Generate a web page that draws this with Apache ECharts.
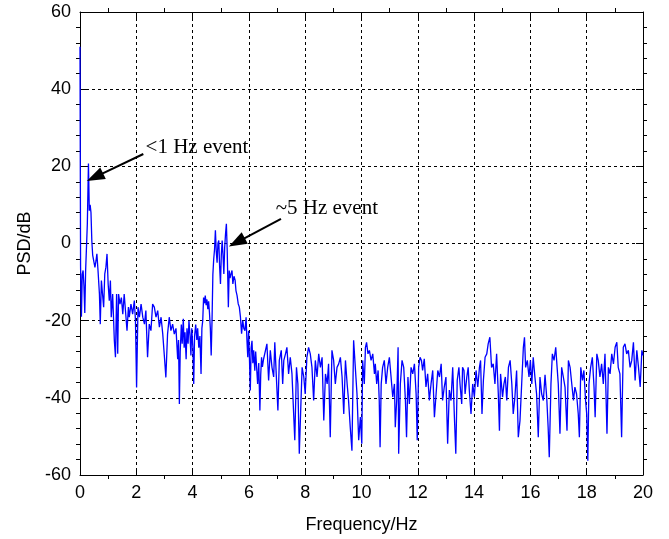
<!DOCTYPE html>
<html>
<head>
<meta charset="utf-8">
<script src="https://cdn.jsdelivr.net/npm/echarts@6/dist/echarts.min.js"></script>
<style>html,body{margin:0;padding:0;background:#fff;}#c{width:669px;height:539px;}</style>
</head>
<body>
<div id="c"></div>
<script>
// Frequency (Hz) and PSD (dB)
const freq = [
0,0.02,0.05,0.08,0.11,0.14,0.17,0.20,0.23,0.26,0.30,0.33,0.36,0.39,0.42,0.45,0.48,0.51,0.53,0.57,0.60,0.64,0.69,0.72,0.76,0.80,0.84,0.88,0.92,0.96,
1.00,1.04,1.08,1.11,1.16,1.22,1.26,1.30,1.34,1.37,1.42,1.47,1.52,1.57,1.63,1.67,1.72,1.75,1.81,1.87,1.93,1.97,2.01,2.06,2.11,2.17,2.23,2.29,2.34,2.40,
2.46,2.52,2.58,2.64,2.70,2.76,2.82,2.88,2.94,3.00,3.05,3.11,3.17,3.23,3.29,3.35,3.41,3.47,3.50,3.53,3.56,3.60,3.63,3.67,3.70,3.73,3.77,3.80,3.84,3.87,
3.91,3.94,3.97,4.01,4.04,4.07,4.11,4.15,4.18,4.22,4.26,4.30,4.33,4.36,4.39,4.42,4.45,4.48,4.51,4.54,4.57,4.60,4.63,4.66,4.69,4.72,4.75,4.78,4.81,4.84,
4.87,4.90,4.93,4.96,4.99,5.02,5.05,5.08,5.11,5.14,5.17,5.20,5.23,5.27,5.30,5.33,5.36,5.40,5.43,5.47,5.51,5.54,5.58,5.62,5.66,5.70,5.74,5.78,5.82,5.86,
5.90,5.93,5.96,5.99,6.02,6.05,6.08,6.11,6.14,6.17,6.21,6.24,6.27,6.31,6.35,6.39,6.42,6.45,6.48,6.52,6.56,6.64,6.70,6.76,6.82,6.88,6.92,6.96,7.03,7.08,
7.15,7.20,7.24,7.30,7.35,7.41,7.47,7.53,7.59,7.63,7.69,7.74,7.79,7.84,7.89,7.95,8.00,8.06,8.12,8.18,8.24,8.30,8.36,8.42,8.48,8.54,8.60,8.66,8.72,8.78,
8.83,8.89,8.95,9.01,9.07,9.13,9.19,9.25,9.31,9.37,9.43,9.49,9.54,9.60,9.66,9.72,9.78,9.84,9.90,9.96,10.01,10.04,10.10,10.14,10.18,10.23,10.28,10.34,10.40,10.46,
10.49,10.54,10.59,10.63,10.66,10.70,10.75,10.81,10.87,10.93,10.99,11.05,11.11,11.17,11.20,11.25,11.30,11.32,11.38,11.44,11.50,11.56,11.60,11.65,11.70,11.76,11.82,11.88,11.94,11.98,
12.03,12.08,12.13,12.17,12.23,12.29,12.35,12.41,12.47,12.53,12.59,12.65,12.71,12.77,12.83,12.88,12.94,13.00,13.06,13.12,13.18,13.24,13.30,13.35,13.40,13.46,13.50,13.56,13.59,13.64,
13.68,13.74,13.79,13.83,13.89,13.95,14.01,14.07,14.13,14.19,14.23,14.28,14.33,14.39,14.45,14.50,14.56,14.62,14.68,14.74,14.80,14.86,14.90,14.94,15.01,15.06,15.11,15.16,15.22,15.28,
15.34,15.39,15.45,15.51,15.57,15.63,15.69,15.75,15.79,15.83,15.89,15.95,16.00,16.05,16.10,16.16,16.22,16.28,16.34,16.40,16.46,16.52,16.58,16.63,16.67,16.73,16.78,16.84,16.90,16.94,
16.99,17.05,17.11,17.17,17.23,17.30,17.35,17.41,17.47,17.53,17.58,17.64,17.70,17.74,17.79,17.85,17.90,17.96,18.00,18.04,18.08,18.14,18.20,18.26,18.30,18.36,18.41,18.47,18.53,18.59,
18.65,18.72,18.77,18.83,18.89,18.95,19.01,19.07,19.12,19.18,19.24,19.30,19.36,19.42,19.48,19.54,19.60,19.66,19.72,19.78,19.84,19.90,19.96,20.00
];
const psd = [
51,-6,-19,-8,-7,-11,-18,-7,-1,5,20.7,8.5,10,8,0.7,-3,-2.5,-3,-6.2,-4.4,-2.7,-7,-13.1,-20.9,-9.6,-13.1,-16.5,-7.9,-6.2,-2.7,
-10.5,-14.8,-9.6,-19.1,-13.1,-25.2,-29.5,-13.1,-28.6,-13.1,-15.7,-14,-18.3,-13.1,-13.1,-22.6,-16.5,-19.1,-15.7,-18.3,-14.8,-20,-37.3,-16.5,-19.1,-15.7,-19.1,-20.9,-17.4,-29.5,
-20.9,-22.6,-15.7,-16.5,-19.1,-17.4,-21.7,-19.1,-23.5,-29.5,-34.7,-23.5,-19.1,-22.6,-20.9,-23.5,-22,-30,-25,-41.6,-28,-21,-26,-19.5,-27,-23,-30,-22,-26,-20,
-24,-29,-22,-27,-36.4,-24,-21,-25,-22,-27,-24,-33.8,-22,-20,-14,-15.5,-13.5,-16,-14.5,-17,-15,-18,-22,-29,-20,-8,-4,-1.5,3.4,-2,
-5,0,0.8,-6,-10.5,-3,0.8,-3,-7.9,-1,2.5,5.1,-2,-16.5,-7,-9,-8,-7,-10.5,-8.5,-9.5,-12.2,-13.5,-15.6,-16.5,-19.1,-23.4,-20,-22,-22.6,
-19.1,-25,-29.5,-22.6,-30,-38.1,-27,-25.2,-31,-27.7,-33,-28,-27.7,-36.4,-31,-43.3,-34,-29.5,-32,-30,-30,-26,-35.5,-27.7,-32.1,-34.6,-25.6,-32.1,-43.3,-30.3,
-27.7,-36.4,-30.3,-28.6,-26.9,-33.8,-29.5,-33.8,-44.2,-51,-32.1,-36.4,-54.5,-43.3,-32.1,-34.6,-39,-29.5,-26.9,-28.6,-32.1,-40.7,-30.3,-34.6,-28.6,-32.1,-29.5,-45.9,-33.8,-36.4,
-31.2,-50.2,-27.7,-30.3,-36.4,-32.1,-31.2,-29.5,-34.6,-44.2,-30.3,-36.4,-40.7,-47.6,-53.7,-25.1,-32.1,-39,-51,-45,-51.9,-30.3,-36.4,-26.9,-25.6,-28.6,-27.7,-30.3,-28.6,-33.8,
-31.2,-36.4,-32.9,-40.7,-52.8,-36.4,-32.1,-30.3,-36.4,-32.1,-29.5,-34.6,-39.8,-36.4,-47.6,-40.7,-26.9,-54.5,-36.4,-30.3,-32.1,-40.7,-50.2,-34.6,-41.6,-32.1,-33.8,-31.2,-39,-51,
-32.1,-29.5,-30.3,-32.9,-29.9,-37.2,-33.8,-40.7,-36.4,-32.9,-45,-39,-32.9,-34.6,-31.2,-40.7,-37.2,-34.6,-51.9,-38,-40.7,-32.1,-45,-54.5,-35.5,-32.1,-36.4,-41.6,-32.1,-32.9,
-39,-34.6,-32.1,-38.1,-44.2,-36.4,-39.8,-32.9,-37.2,-32.1,-30.3,-44.2,-35.5,-29.5,-28.6,-26,-24.3,-32.1,-31.2,-36.4,-28.6,-39,-48.5,-33.8,-39.8,-36.4,-34.6,-40.7,-32.1,-30.3,
-36.4,-44.2,-39.8,-32.9,-50.2,-45.9,-36.4,-26.9,-24.3,-32.1,-30.3,-34.6,-30.3,-36.4,-29.5,-34.6,-39,-50.2,-34.6,-39,-40.7,-34,-40,-47.6,-55.4,-36.4,-28.6,-30.3,-26.9,-31.2,
-36.4,-49.3,-32.1,-34.6,-37.2,-48.5,-30.3,-32.1,-36.4,-40.7,-37.2,-39,-44.2,-50.2,-32.1,-35.5,-32.9,-40.7,-44.2,-56.3,-36.4,-32.1,-29.5,-37.2,-45,-28.6,-30.3,-34.6,-31.2,-36.4,
-28.6,-49.3,-32.1,-33.8,-28.6,-31.2,-26.9,-25.6,-32.1,-33.8,-50.2,-26.9,-26,-28.6,-27.7,-32.1,-30.3,-25.6,-35.5,-27.7,-32.1,-37.2,-27.7,-29
];
const xTicks = [0,2,4,6,8,10,12,14,16,18,20];
const yTicks = [-60,-40,-20,0,20,40,60];
const notes = [
  {text:'<1 Hz event', at:[2.33, 25.0], tail:[2.25, 23.2], tip:[0.53, 17.2]},
  {text:'~5 Hz event', at:[6.95, 9.1], tail:[7.14, 6.4], tip:[5.57, 0.3]}
];

const chart = echarts.init(document.getElementById('c'), null, {renderer:'canvas'});
const tickFont = {fontFamily:'Liberation Sans, Arial, sans-serif', fontSize:18, color:'#000'};
function ax(extra, split){
  return Object.assign({
    type:'value',
    axisLine:{show:true, onZero:false, lineStyle:{color:'#000', width:1}},
    axisTick:{show:true, inside:true, length:7, lineStyle:{color:'#000'}},
    minorTick:{show:true, splitNumber:split, length:-4, lineStyle:{color:'#000'}},
  }, extra);
}
chart.setOption({
  animation:false,
  backgroundColor:'#fff',
  grid:{left:80, right:26, top:12, bottom:64, containLabel:false},
  xAxis:[
    ax({min:xTicks[0], max:xTicks[xTicks.length-1], interval:2,
      name:'Frequency/Hz', nameLocation:'middle', nameGap:41,
      nameTextStyle:Object.assign({}, tickFont),
      axisLabel:Object.assign({margin:9}, tickFont),
      splitLine:{show:true, lineStyle:{color:'#000', type:[3,3], width:1}}
    }, 2),
    ax({position:'top', min:0, max:20, interval:2, axisLabel:{show:false}, splitLine:{show:false}}, 2)
  ],
  yAxis:[
    ax({min:yTicks[0], max:yTicks[yTicks.length-1], interval:20,
      name:'PSD/dB', nameLocation:'middle', nameGap:43, nameRotate:90,
      nameTextStyle:Object.assign({}, tickFont),
      axisLabel:Object.assign({margin:9}, tickFont),
      splitLine:{show:true, lineStyle:{color:'#000', type:[3,3], width:1}}
    }, 5),
    ax({position:'right', min:-60, max:60, interval:20, axisLabel:{show:false}, splitLine:{show:false}}, 5)
  ],
  series:[{
    type:'line',
    xAxisIndex:0, yAxisIndex:0,
    data: freq.map((f,i)=>[f, psd[i]]),
    showSymbol:false, symbol:'none',
    lineStyle:{color:'#0000ff', width:1.3},
    clip:false,
    z:3,
    markLine:{
      silent:true, animation:false,
      symbol:['none','triangle'], symbolSize:[13,18],
      lineStyle:{color:'#000', width:2, type:'solid'},
      label:{show:false},
      data: notes.map(n=>[{coord:n.tail},{coord:n.tip}])
    },
    markPoint:{
      silent:true, animation:false,
      symbol:'circle', symbolSize:0,
      label:{show:true, position:'right', distance:0, color:'#000',
        fontFamily:'Liberation Serif, Times New Roman, serif', fontSize:21,
        formatter:p=>p.name},
      data: notes.map(n=>({name:n.text, coord:n.at}))
    }
  }]
});
</script>
</body>
</html>
